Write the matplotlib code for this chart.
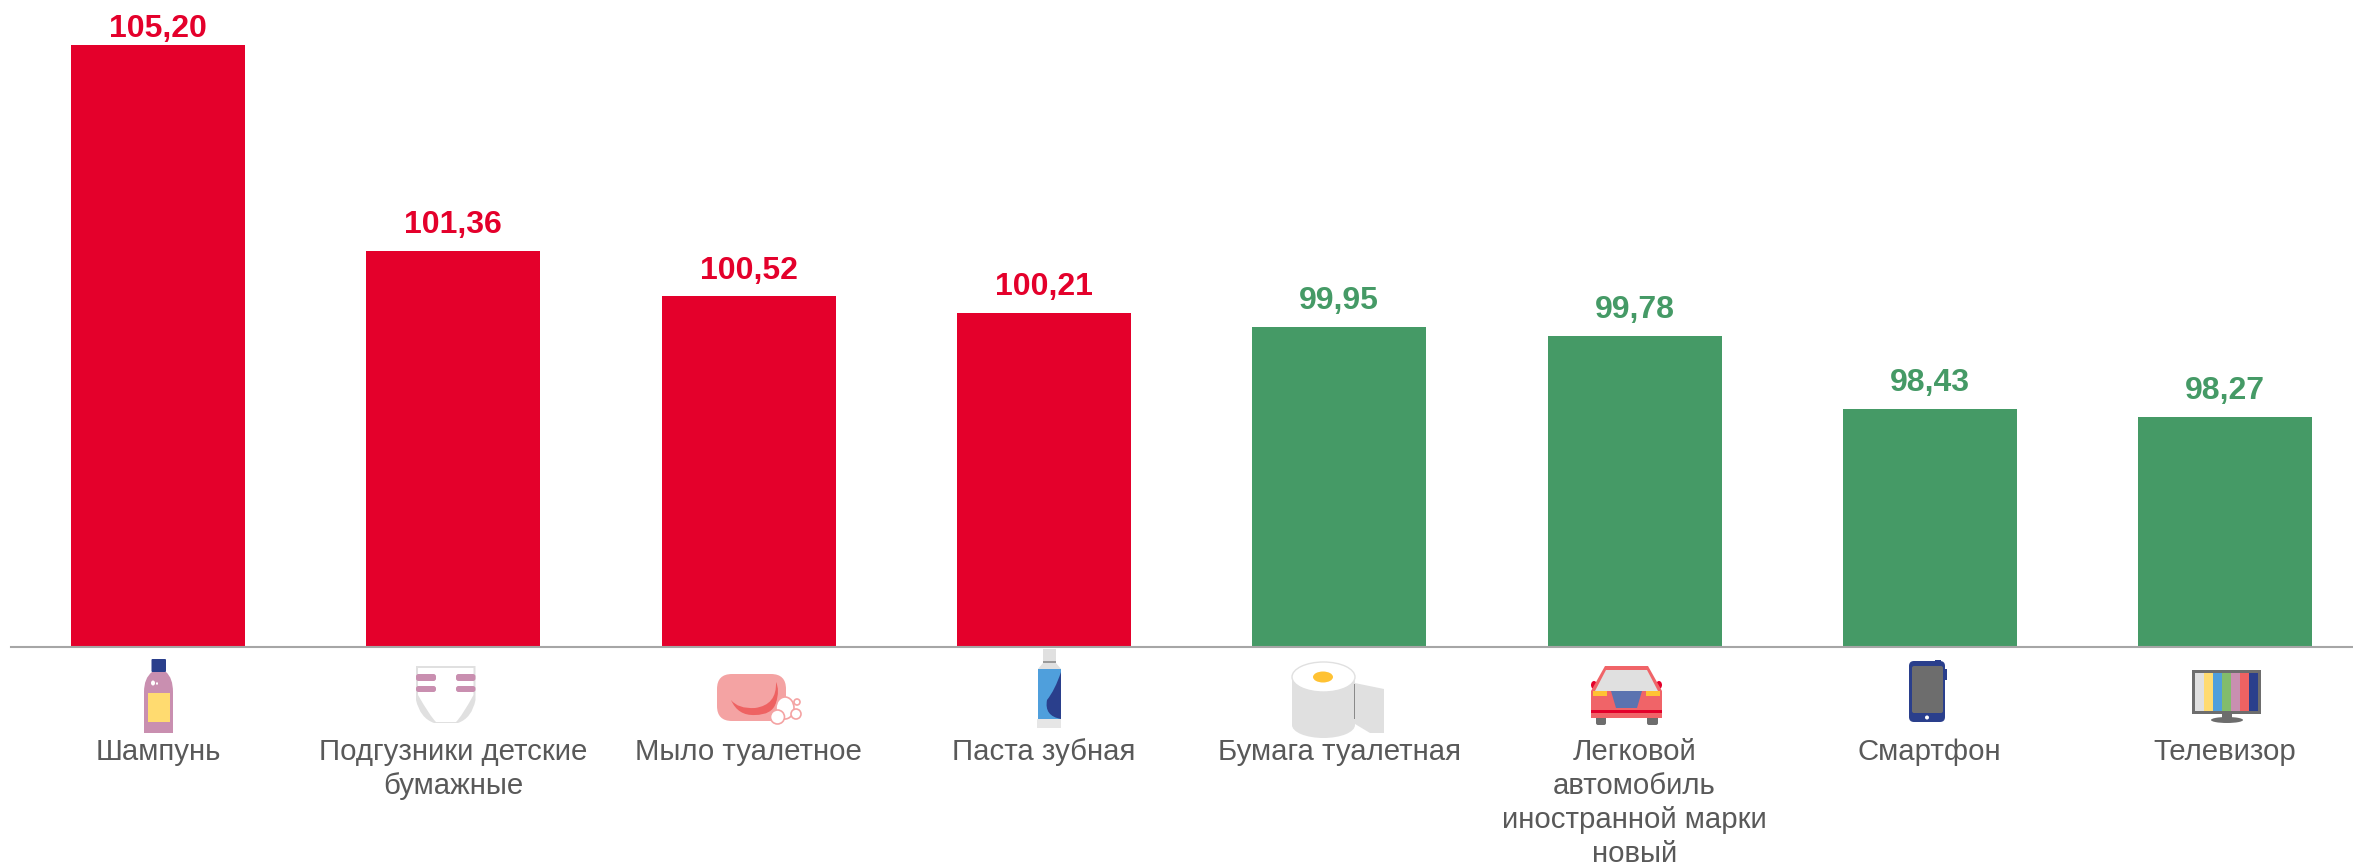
import matplotlib
matplotlib.use("Agg")
import matplotlib.pyplot as plt
from matplotlib.patches import Rectangle, Ellipse, Polygon, FancyBboxPatch, PathPatch
from matplotlib.path import Path

plt.rcParams['font.family'] = ['Liberation Sans', 'DejaVu Sans']

categories = ["Шампунь", "Подгузники детские\nбумажные", "Мыло туалетное", "Паста зубная",
              "Бумага туалетная", "Легковой\nавтомобиль\nиностранной марки\nновый", "Смартфон", "Телевизор"]
values = [105.20, 101.36, 100.52, 100.21, 99.95, 99.78, 98.43, 98.27]
value_labels = ["105,20", "101,36", "100,52", "100,21", "99,95", "99,78", "98,43", "98,27"]

RED = "#E4002B"
GREEN = "#459A66"
TEXT = "#595959"
AXIS = "#A6A6A6"
W, H = 2353, 863

fig = plt.figure(figsize=(W / 100, H / 100), dpi=100, facecolor="white")
BASE = 646.5
ax = fig.add_axes([11 / W, (H - BASE) / H, 1 - 11 / W, BASE / H])
ax.set_facecolor("none")
STEP = 295.3
ax.set_xlim((11 - 158) / STEP, (W - 158) / STEP)
ax.set_ylim(94, 94 + BASE / 53.7)
colors = [RED if v > 100 else GREEN for v in values]
xs = list(range(len(values)))
ax.bar(xs, [v - 94 for v in values], bottom=94, width=174 / STEP, color=colors, linewidth=0, zorder=2)
for s in ["top", "left", "right"]:
    ax.spines[s].set_visible(False)
ax.spines["bottom"].set_color(AXIS)
ax.spines["bottom"].set_linewidth(1.5)
ax.set_yticks([])
ax.set_xticks(xs)
ax.set_xticklabels(categories, fontsize=21.2, color=TEXT, linespacing=1.27)
ax.tick_params(axis="x", length=0, pad=66)
for i, (x, v, lab, c) in enumerate(zip(xs, values, value_labels, colors)):
    ax.annotate(lab, (x, v), xytext=(0, 5.6 if i == 0 else 12.8), textcoords="offset points",
                ha="center", va="baseline", fontsize=23, fontweight="bold", color=c, annotation_clip=False)

# pictograms, drawn in figure pixels
ic = fig.add_axes([0, 0, 1, 1], zorder=5)
ic.set_xlim(0, W)
ic.set_ylim(H, 0)
ic.axis("off")
ic.patch.set_alpha(0)

def rect(x0, y0, x1, y1, c, **k):
    ic.add_patch(Rectangle((x0, y0), x1 - x0, y1 - y0, fc=c, ec="none", **k))

def rrect(x0, y0, x1, y1, r, c, ec="none", lw=0):
    ic.add_patch(FancyBboxPatch((x0 + r, y0 + r), x1 - x0 - 2 * r, y1 - y0 - 2 * r,
                                boxstyle=f"round,pad={r},rounding_size={r}", fc=c, ec=ec, lw=lw))

def poly(pts, c, ec="none", lw=0):
    ic.add_patch(Polygon(pts, closed=True, fc=c, ec=ec, lw=lw))

def ell(x, y, rx, ry, c, ec="none", lw=0):
    ic.add_patch(Ellipse((x, y), 2 * rx, 2 * ry, fc=c, ec=ec, lw=lw))

def curve(verts, codes, c):
    ic.add_patch(PathPatch(Path(verts, codes), fc=c, ec="none"))

M, L, C3, Z = Path.MOVETO, Path.LINETO, Path.CURVE3, Path.CLOSEPOLY

# shampoo
NAVY = "#2A3F8C"
PINK = "#C98FB0"
YEL = "#FFDB70"
rrect(151.5, 659, 166, 672, 1, NAVY)
curve([(152, 672), (166, 672), (173, 678), (173, 692), (173, 733), (144, 733), (144, 692), (144, 678), (152, 672), (152, 672)],
      [M, L, C3, C3, L, L, L, C3, C3, Z], PINK)
rect(147.5, 693, 170, 722, YEL)
ell(153, 683, 2, 2.5, "white")
ell(157, 683.5, 1, 1.3, "white")

# diaper
G = "#E0E0E0"
curve([(416, 666), (475.5, 666), (475.5, 700), (472, 718), (458, 723), (434, 723), (420, 718), (416, 700), (416, 666)],
      [M, L, L, C3, C3, L, C3, C3, Z], G)
curve([(418, 668), (473.5, 668), (473.5, 695), (462, 716), (456, 722), (436, 722), (430, 716), (418, 695), (418, 668)],
      [M, L, L, C3, C3, L, C3, C3, Z], "white")
for y0, y1 in [(674, 681), (686, 692)]:
    rrect(416, y0, 436, y1, 2.5, PINK)
    rrect(456, y0, 475.5, y1, 2.5, PINK)

# soap
rrect(717, 674, 786, 721, 15, "#F4A3A3")
curve([(731, 700), (738, 716), (755, 715), (772, 715), (776, 703), (780, 690), (776, 682),
       (777, 705), (755, 708), (738, 709), (731, 700), (731, 700)],
      [M, C3, C3, C3, C3, C3, C3, C3, C3, C3, C3, Z], "#EE6262")
for x, y, r, rr in [(785, 708, 9, 11), (777.5, 717, 7, 7), (796, 714, 5, 5), (797, 702, 3, 3)]:
    ell(x, y, r, rr, "white", ec="#F4A3A3", lw=1.2)

# toothpaste
rect(1043, 649, 1056, 661, G)
rect(1043, 661, 1056, 663, "#9A9A9A")
poly([(1043, 663), (1056, 663), (1061, 669), (1038, 669)], G)
rect(1038, 669, 1061, 719, "#4F9FDC")
curve([(1061, 672), (1055, 690), (1047, 700), (1044, 716), (1061, 719), (1061, 672)],
      [M, C3, C3, C3, L, Z], NAVY)
rect(1037, 719, 1061, 728, "#E6E6E6")

# toilet paper
poly([(1340, 680), (1384, 689), (1384, 733), (1370, 733), (1355, 724)], G)
rect(1292, 677, 1355, 725, G)
ell(1323.5, 725, 31.5, 13, G)
ell(1323.5, 677, 31.5, 15, "white", ec=G, lw=1)
ell(1323, 677, 10, 5.5, "#FFC233")
rect(1353.5, 684, 1355, 719, "#8A8A8A")

# car
CB = "#F06468"
rrect(1596, 716, 1606, 725, 2, "#6D6D6D")
rrect(1647, 716, 1658, 725, 2, "#6D6D6D")
ell(1594, 685, 3, 4, "#E4002B")
ell(1659, 685, 3, 4, "#E4002B")
poly([(1605, 666), (1648, 666), (1662, 691), (1662, 718), (1591, 718), (1591, 691)], CB)
poly([(1606, 670), (1647, 670), (1658, 691), (1595, 691)], G)
poly([(1611, 691), (1642, 691), (1637, 708), (1616, 708)], "#5B73B0")
rect(1593, 691, 1607, 696, "#FFC233")
rect(1646, 691, 1660, 696, "#FFC233")
rect(1591, 710, 1662, 713, "#E4002B")

# phone
rect(1935, 660, 1941, 664, NAVY)
rect(1944, 669, 1947, 680, NAVY)
rrect(1909, 661, 1945, 722, 5, NAVY)
rrect(1912, 666, 1943, 713, 2, "#6D6D6D")
ell(1927, 717.5, 2, 2, "white")

# television
rect(2192, 670, 2261, 714, "#6D6D6D")
tv_cols = [G, YEL, "#4F9FDC", "#82BC6B", PINK, "#EE6262", NAVY]
for i, c in enumerate(tv_cols):
    rect(2195 + i * 9, 673, 2195 + (i + 1) * 9, 711, c)
rect(2222, 714, 2232, 719, "#6D6D6D")
ell(2227, 720, 16, 3, "#6D6D6D")

fig.savefig("out.png", dpi=100, facecolor="white")
